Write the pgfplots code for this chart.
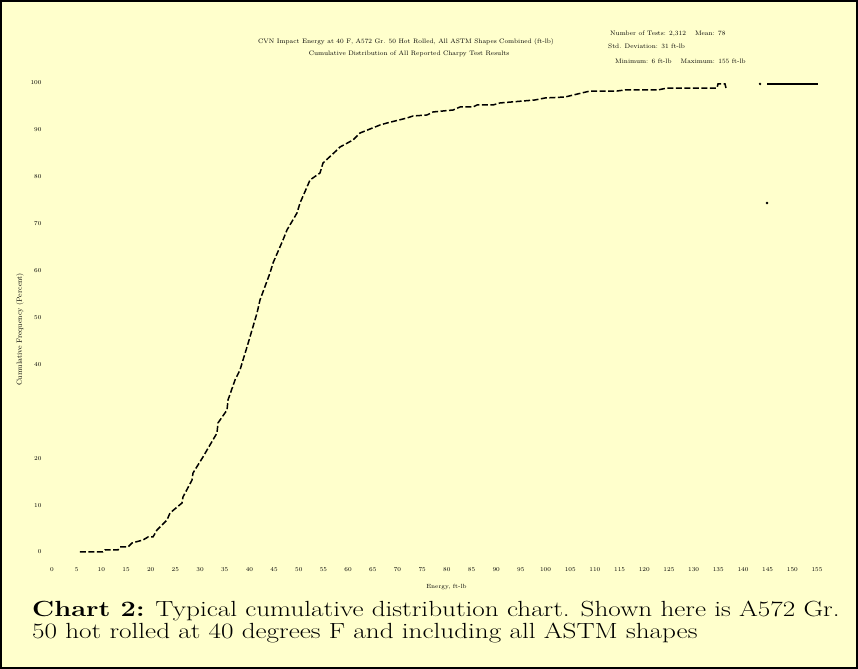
\documentclass[border=0pt]{standalone}
\usepackage{pgfplots}
\pgfplotsset{compat=1.18}
\definecolor{bg}{HTML}{FFFFCC}
\begin{document}
\begin{tikzpicture}[x=1bp,y=1bp]
\useasboundingbox (0,0) rectangle (858,669);
\fill[bg] (0,0) rectangle (858,669);
\draw[line width=2bp] (1,1) rectangle (857,668);
\begin{axis}[
  at={(52bp,117bp)}, anchor=south west,
  scale only axis, width=765bp, height=469bp,
  xmin=0, xmax=155, ymin=0, ymax=100,
  clip=false,
  axis line style={draw=none},
  major tick length=0pt,
  xtick={0,5,...,155},
  ytick={0,10,20,40,50,60,70,80,90,100},
  tick label style={font=\fontsize{6}{7}\selectfont},
  xticklabel style={yshift=-12bp},
  yticklabel style={xshift=-7bp},
  xlabel={Energy, ft-lb},
  xlabel style={font=\fontsize{6}{7}\selectfont, at={(ticklabel cs:0.5)}, yshift=-6bp, xshift=12bp},
  ylabel={Cumulative Frequency (Percent)},
  ylabel style={font=\fontsize{7.5}{8}\selectfont, at={(ticklabel cs:0.5)}, xshift=-12bp},
]
\addplot[black, line width=1.5bp, dash pattern=on 6bp off 2.5bp] coordinates {
(5.67,0) (10.33,0) (10.74,0.43) (13.37,0.43) (13.78,1.07) (15.40,1.07)
(16.21,1.92) (18.44,2.56) (19.45,3.20) (20.46,3.20) (21.27,4.69) (23.30,6.82)
(23.91,8.32) (26.34,10.45) (26.54,11.73) (28.37,15.35) (28.57,16.84) (30.59,20.26)
(31.41,21.75) (33.43,25.37) (33.63,27.51) (35.46,30.28) (35.66,32.41) (37.08,36.67)
(38.09,38.81) (38.70,40.94) (39.51,43.71) (41.54,50.96) (42.14,53.73) (44.17,59.49)
(44.78,61.62) (46.80,66.52) (47.61,68.66) (49.64,72.28) (50.25,74.41) (51.67,77.83)
(52.27,79.32) (54.30,80.81) (54.91,82.94) (57.75,85.71) (58.35,86.35) (60.99,87.85)
(62.41,89.34) (66.46,91.04) (67.88,91.47) (71.93,92.54) (73.14,92.96) (75.98,93.18)
(77.20,93.82) (81.25,94.24) (82.67,94.88) (85.30,94.88) (86.11,95.31) (89.35,95.31)
(90.77,95.74) (97.86,96.38) (99.89,96.80) (103.94,97.01) (109.01,98.29) (114.48,98.29)
(116.10,98.51) (122.78,98.51) (124.61,98.93) (134.74,98.93) (134.94,99.79) (136.36,99.79)
(136.56,98.93)
};
\addplot[black, line width=1.5bp] coordinates {(144.87,99.79) (155.2,99.79)};
\addplot[only marks, mark=*, mark size=1bp, black] coordinates {(143.45,99.79) (144.87,74.41)};
\end{axis}
\node[font=\fontsize{6.5}{7}\selectfont, inner sep=0] at (406,627) {CVN Impact Energy at 40 F, A572 Gr. 50 Hot Rolled, All ASTM Shapes Combined (ft-lb)};
\node[font=\fontsize{6.5}{7}\selectfont, inner sep=0] at (409,615) {Cumulative Distribution of All Reported Charpy Test Results};
\node[font=\fontsize{6.5}{7}\selectfont, inner sep=0, anchor=west] at (610,635) {Number of Tests: 2,312 \quad Mean: 78};
\node[font=\fontsize{6.5}{7}\selectfont, inner sep=0, anchor=west] at (608,623) {Std. Deviation: 31 ft-lb};
\node[font=\fontsize{6.5}{7}\selectfont, inner sep=0, anchor=west] at (615,608) {Minimum: 6 ft-lb \quad Maximum: 155 ft-lb};
\node[anchor=base west, inner sep=0] at (32,52) {\scalebox{1.24}[1]{\fontsize{22}{24}\selectfont\textbf{Chart 2:} Typical cumulative distribution chart. Shown here is A572 Gr.}};
\node[anchor=base west, inner sep=0] at (32,30) {\scalebox{1.24}[1]{\fontsize{22}{24}\selectfont 50 hot rolled at 40 degrees F and including all ASTM shapes}};
\end{tikzpicture}
\end{document}
